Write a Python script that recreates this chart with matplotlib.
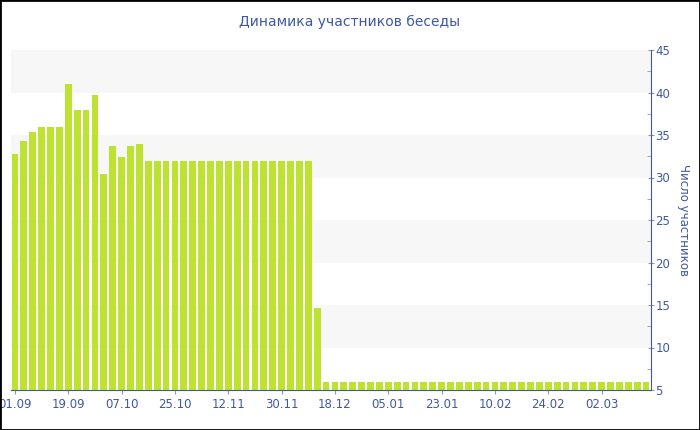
from matplotlib import pyplot as plt
from matplotlib.ticker import MultipleLocator
import numpy as np

plt.rcParams["font.family"] = ["DejaVu Sans"]

# number of chat members per sample point
values = ([32.8, 34.3, 35.3, 36.0, 36.0, 36.0, 41.0, 38.0, 38.0, 39.7,
           30.4, 33.7, 32.4, 33.7, 34.0]
          + [32.0] * 19
          + [14.7]
          + [6.0] * 37)

tick_labels = ['01.09', '19.09', '07.10', '25.10', '12.11', '30.11',
               '18.12', '05.01', '23.01', '10.02', '24.02', '02.03']
tick_step = 6

blue = '#4058a2'
green = '#bde232'

fig = plt.figure(figsize=(7, 4.3), dpi=100)
ax = fig.add_axes([10.5 / 700, 40 / 430, 640 / 700, 340 / 430])

x = np.arange(len(values))
ymin, ymax = 5, 45

# alternating background bands
for lo in range(10, ymax, 10):
    ax.axhspan(lo, lo + 5, color='#f7f7f7', zorder=0, lw=0)

ax.bar(x, np.array(values) - ymin, bottom=ymin, width=0.76, color=green, zorder=2)

ax.set_xlim(-0.5, len(values) - 0.5)
ax.set_ylim(ymin, ymax)

ax.set_xticks(x[::tick_step][:len(tick_labels)])
ax.set_xticklabels(tick_labels)

ax.yaxis.tick_right()
ax.yaxis.set_label_position('right')
ax.yaxis.set_major_locator(MultipleLocator(5))
ax.yaxis.set_minor_locator(MultipleLocator(2.5))
ax.set_ylabel('Число участников', rotation=270, color=blue, fontsize=8.5, labelpad=14)

ax.tick_params(axis='x', colors='#999999', labelcolor=blue, labelsize=8.5,
               length=3, pad=3)
ax.tick_params(axis='y', which='major', colors='#999999', labelcolor=blue,
               labelsize=8.5, direction='inout', length=5, pad=1)
ax.tick_params(axis='y', which='minor', colors='#999999', direction='in', length=3)

for s in ['top', 'left']:
    ax.spines[s].set_visible(False)
for s in ['bottom', 'right']:
    ax.spines[s].set_color(blue)
    ax.spines[s].set_zorder(3)

fig.text(0.5, 1 - 22 / 430, 'Динамика участников беседы', ha='center', va='center',
         color=blue, fontsize=10)

# outer frame
fig.patches.append(plt.Rectangle((0, 0), 1, 1, transform=fig.transFigure,
                                 fill=False, edgecolor='black', lw=2))

fig.savefig('out.png', dpi=100)
